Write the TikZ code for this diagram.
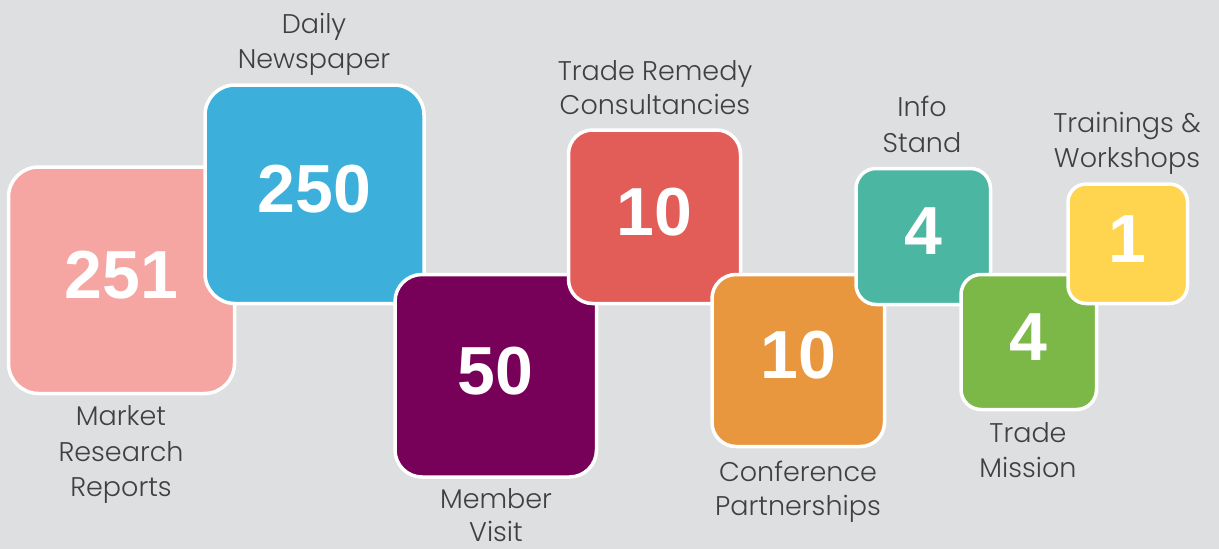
\documentclass[tikz,border=0pt]{standalone}
\usepackage{fontspec}
\setmainfont{Poppins Light}
\newfontfamily\numfont{Liberation Sans}
\definecolor{bgc}{HTML}{DEDFE1}
\definecolor{labelc}{HTML}{404040}
\definecolor{pinkc}{HTML}{F6A6A2}
\definecolor{bluec}{HTML}{3CAFDA}
\definecolor{purplec}{HTML}{770058}
\definecolor{redc}{HTML}{E25C58}
\definecolor{orangec}{HTML}{E8973E}
\definecolor{tealc}{HTML}{4BB6A1}
\definecolor{greenc}{HTML}{7BB848}
\definecolor{yellowc}{HTML}{FFD550}
\tikzset{
  tile/.style={draw=white, line width=3.5pt, inner sep=0pt, outer sep=0pt},
  num/.style={font=\numfont\bfseries\fontsize{68}{68}\selectfont, text=white, inner sep=0pt},
  lbl/.style={font=\fontsize{27}{30}\selectfont, text=labelc, inner sep=0pt, anchor=base}
}
\begin{document}
\begin{tikzpicture}[x=1pt,y=-1pt]
\fill[bgc] (0,0) rectangle (1219,549);
\useasboundingbox (0,0) rectangle (1219,549);

% tiles, left to right (each drawn over the previous)
\node[tile, fill=pinkc, minimum width=226pt, minimum height=226.5pt, rounded corners=30pt] (b1) at (121.5,280.25) {};
\node[num] (n1) at ([yshift=5pt]b1.center) {251};
\node[tile, fill=bluec, minimum width=219pt, minimum height=218.5pt, rounded corners=30pt] (b2) at (314.5,194.25) {};
\node[num] (n2) at ([yshift=5pt]b2.center) {250};
\node[tile, fill=purplec, minimum width=201.5pt, minimum height=202.5pt, rounded corners=27pt] (b3) at (495.75,375.75) {};
\node[num] (n3) at ([yshift=5pt]b3.center) {50};
\node[tile, fill=redc, minimum width=172pt, minimum height=173.5pt, rounded corners=24pt] (b4) at (654.5,216.75) {};
\node[num] (n4) at ([yshift=5pt]b4.center) {10};
\node[tile, fill=orangec, minimum width=172.5pt, minimum height=172pt, rounded corners=24pt] (b5) at (798.25,360.5) {};
\node[num] (n5) at ([yshift=5pt]b5.center) {10};
\node[tile, fill=tealc, minimum width=134.5pt, minimum height=136pt, rounded corners=20pt] (b6) at (923.25,236.5) {};
\node[num] (n6) at ([yshift=5pt]b6.center) {4};
\node[tile, fill=greenc, minimum width=135.5pt, minimum height=135pt, rounded corners=20pt] (b7) at (1028.75,342) {};
\node[num] (n7) at ([yshift=5pt]b7.center) {4};
\node[tile, fill=yellowc, minimum width=119.5pt, minimum height=119.5pt, rounded corners=18pt] (b8) at (1127.75,243.75) {};
\node[num] (n8) at ([yshift=5pt]b8.center) {1};

% labels
\node[lbl] (t1a) at (121,425) {Market};
\node[lbl] (t1b) at (121,461) {Research};
\node[lbl] (t1c) at (121,496) {Reports};
\node[lbl] (t2a) at (314,33) {Daily};
\node[lbl] (t2b) at (314,68) {Newspaper};
\node[lbl] (t3a) at (496,508) {Member};
\node[lbl, text depth=0pt] (t3b) at (496,541) {Visit};
\node[lbl] (t4a) at (655,80) {Trade Remedy};
\node[lbl] (t4b) at (655,114) {Consultancies};
\node[lbl] (t5a) at (798,481) {Conference};
\node[lbl] (t5b) at (798,515) {Partnerships};
\node[lbl] (t6a) at (922,116) {Info};
\node[lbl] (t6b) at (922,152) {Stand};
\node[lbl] (t7a) at (1028,442) {Trade};
\node[lbl] (t7b) at (1028,477) {Mission};
\node[lbl] (t8a) at (1127,132) {Trainings \&};
\node[lbl] (t8b) at (1127,167) {Workshops};
\end{tikzpicture}
\end{document}
